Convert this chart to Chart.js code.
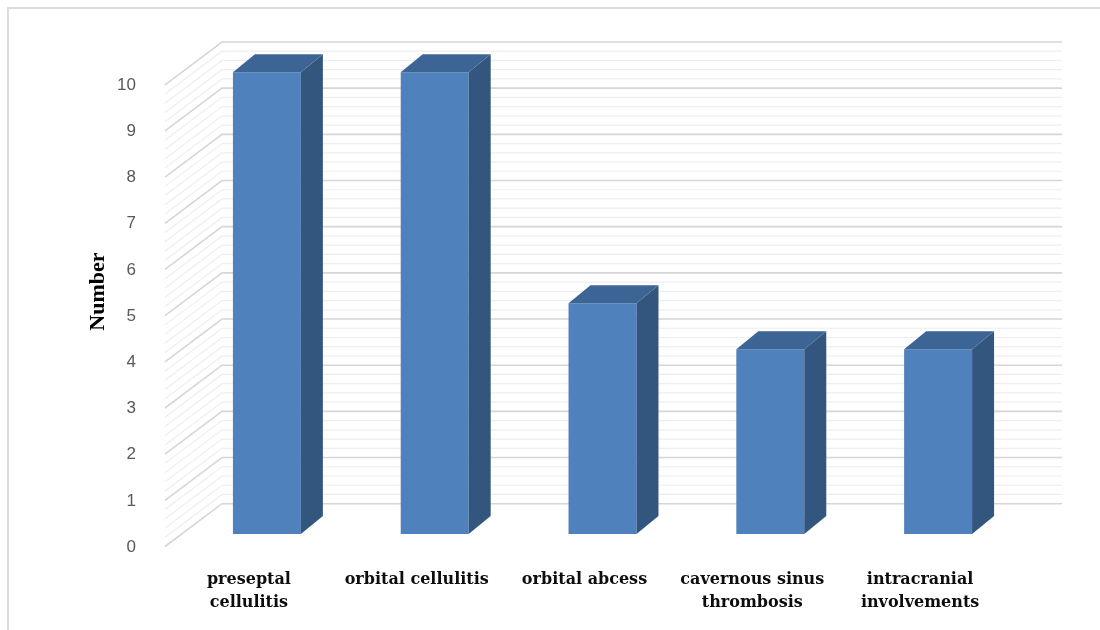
<!DOCTYPE html>
<html><head><meta charset="utf-8">
<script src="https://cdn.jsdelivr.net/npm/chart.js@4.4.1/dist/chart.umd.min.js"></script>
<style>
html,body{margin:0;padding:0;background:#fff;}
#wrap{position:relative;width:1100px;height:630px;}
#frame{position:absolute;left:7px;top:7px;right:0;bottom:0;border-left:2px solid #dcdcdc;border-top:2px solid #dcdcdc;pointer-events:none;}
</style></head><body>
<div id="wrap"><canvas id="c"></canvas><div id="frame"></div></div>
<script>
const categories = [['preseptal','cellulitis'], 'orbital cellulitis', 'orbital abcess', ['cavernous sinus','thrombosis'], ['intracranial','involvements']];
const counts = [10, 10, 5, 4, 4];
const yTicks = [0, 1, 2, 3, 4, 5, 6, 7, 8, 9, 10];
const yTitle = 'Number';

const wall3d = {
  id: 'wall3d',
  beforeDatasetsDraw(chart) {
    const {ctx, chartArea: a, scales: {y}} = chart;
    const fx = a.left - 18, bx = a.left + 39, ex = a.right + 40, fdy = 12.5, bdy = -30.3;
    const maxV = yTicks[yTicks.length - 1];
    ctx.save();
    for (const pass of [false, true]) {
      for (let k = 0; k <= maxV * 5; k++) {
        const major = k % 5 === 0;
        if (major !== pass) continue;
        const py = y.getPixelForValue(k / 5);
        ctx.strokeStyle = major ? '#d6d6d6' : '#eeeeee';
        ctx.lineWidth = major ? 1.6 : 1.2;
        ctx.beginPath();
        ctx.moveTo(fx, py + fdy);
        ctx.lineTo(bx, py + bdy);
        ctx.lineTo(ex, py + bdy);
        ctx.stroke();
      }
    }
    ctx.restore();
  },
  afterDatasetsDraw(chart) {
    const ctx = chart.ctx, dx = 22, dy = -18;
    const meta = chart.getDatasetMeta(0);
    ctx.save();
    meta.data.forEach(bar => {
      const {x, y, base, width} = bar.getProps(['x', 'y', 'base', 'width'], true);
      const l = x - width / 2, r = x + width / 2;
      ctx.fillStyle = '#33567f';
      ctx.beginPath();
      ctx.moveTo(r, y); ctx.lineTo(r + dx, y + dy); ctx.lineTo(r + dx, base + dy); ctx.lineTo(r, base);
      ctx.closePath(); ctx.fill();
      ctx.fillStyle = '#3c6494';
      ctx.beginPath();
      ctx.moveTo(l, y); ctx.lineTo(l + dx, y + dy); ctx.lineTo(r + dx, y + dy); ctx.lineTo(r, y);
      ctx.closePath(); ctx.fill();
    });
    ctx.restore();
  }
};

new Chart(document.getElementById('c'), {
  type: 'bar',
  data: {
    labels: categories,
    datasets: [{
      data: counts,
      backgroundColor: '#4f81bd',
      borderWidth: 0,
      categoryPercentage: 1,
      barPercentage: 0.405
    }]
  },
  options: {
    responsive: true,
    maintainAspectRatio: false,
    animation: false,
    layout: {padding: {left: 85, top: 49, right: 78, bottom: 0}},
    plugins: {legend: {display: false}, tooltip: {enabled: false}},
    scales: {
      x: {
        grid: {display: false},
        border: {display: false},
        afterFit(s) { s.height = 96; },
        ticks: {
          color: '#0d0d0d',
          font: {family: 'DejaVu Serif', weight: 'bold', size: 16, lineHeight: 1.45},
          padding: 26,
          labelOffset: -18,
          autoSkip: false,
          maxRotation: 0,
          minRotation: 0
        }
      },
      y: {
        min: 0,
        max: 10.5,
        afterBuildTicks(s) { s.ticks = yTicks.map(v => ({value: v})); },
        afterFit(s) { s.width = 98; },
        grid: {display: false},
        border: {display: false},
        ticks: {
          color: '#595959',
          font: {family: 'Liberation Sans', size: 17},
          padding: 39,
          labelOffset: 13
        },
        title: {
          display: true,
          text: yTitle,
          color: '#000',
          font: {family: 'Liberation Serif', weight: 'bold', size: 22},
          padding: 0
        }
      }
    }
  },
  plugins: [wall3d]
});
</script>
</body></html>
